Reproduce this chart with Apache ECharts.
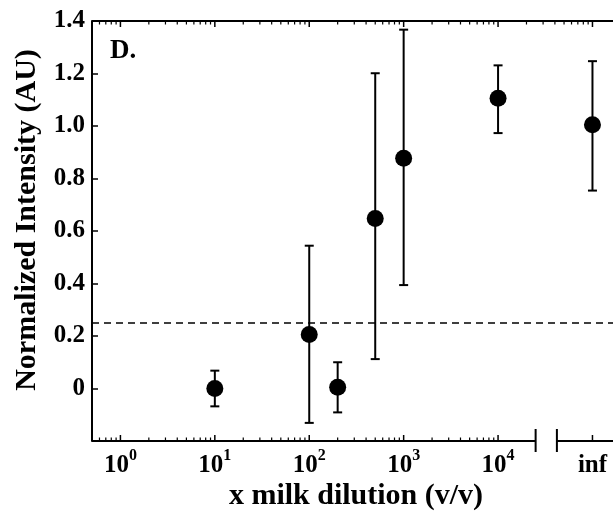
<!DOCTYPE html>
<html><head><meta charset="utf-8">
<script src="https://cdn.jsdelivr.net/npm/echarts@6/dist/echarts.min.js"></script>
<style>html,body{margin:0;padding:0;background:#fff}#c{width:613px;height:512px}</style>
</head><body><div id="c"></div>
<script>
// ---- data ----
const dilution = [10, 100, 200, 500, 1000, 10000, 100000]; // 'inf' is drawn at the 1e5 position
const dilutionLabels = ['10', '100', '200', '500', '1000', '10000', 'inf'];
const intensity = [0.000, 0.206, 0.005, 0.648, 0.877, 1.106, 1.005];
const errLow = [-0.068, -0.131, -0.091, 0.112, 0.394, 0.973, 0.754];
const errHigh = [0.068, 0.544, 0.100, 1.201, 1.367, 1.231, 1.247];
const threshold = 0.25;
// ---- axis ticks ----
const xMajorTicks = [1, 10, 100, 1000, 10000, 100000];
const xTickBase = ['10', '10', '10', '10', '10', 'inf'];
const xTickExp = ['0', '1', '2', '3', '4', ''];
const minorMultipliers = [2, 3, 4, 5, 6, 7, 8, 9];
const minorDecades = [0.1, 1, 10, 100, 1000, 10000];
const bottomMinorLimit = 10000;
const xExtent = [0.5, 165000];
const yExtent = [-0.2, 1.4];
const yStep = 0.2;
const axisBreak = [25000, 42000];

const FONT = '"Liberation Serif", "Times New Roman", serif';
const chart = echarts.init(document.getElementById('c'), null, {renderer: 'canvas'});

function axesRender(params, api) {
  const ch = [];
  const black = '#000';
  const yTop = yExtent[1], yBot = yExtent[0];
  const line = (a, b, w) => ch.push({type: 'line', shape: {x1: a[0], y1: a[1], x2: b[0], y2: b[1]}, style: {stroke: black, lineWidth: w}});
  // top axis (continuous)
  line(api.coord([xExtent[0], yTop]), api.coord([xExtent[1], yTop]), 2);
  // bottom axis with break
  const b0 = api.coord([xExtent[0], yBot]);
  const bs = api.coord([axisBreak[0], yBot]);
  const be = api.coord([axisBreak[1], yBot]);
  const b1 = api.coord([xExtent[1], yBot]);
  line(b0, bs, 2);
  line(be, b1, 2);
  line([bs[0], bs[1] - 12], [bs[0], bs[1] + 11], 2);
  line([be[0], be[1] - 12], [be[0], be[1] + 11], 2);
  // major ticks
  xMajorTicks.forEach((v, i) => {
    const pb = api.coord([v, yBot]);
    const pt = api.coord([v, yTop]);
    line(pb, [pb[0], pb[1] - 6], 1.5);
    line(pt, [pt[0], pt[1] + 6], 1.5);
    const txt = xTickExp[i] ? '{b|' + xTickBase[i] + '}{s|' + xTickExp[i] + '}' : '{b|' + xTickBase[i] + '}';
    ch.push({type: 'text', x: pb[0], y: pb[1] + 25, style: {
      text: txt, align: 'center', verticalAlign: 'middle', fill: black,
      rich: {
        b: {fontSize: 25, fontWeight: 'bold', fontFamily: FONT, lineHeight: 36},
        s: {fontSize: 16, fontWeight: 'bold', fontFamily: FONT, lineHeight: 14, verticalAlign: 'top'}
      }
    }});
  });
  // minor ticks
  minorDecades.forEach(d => minorMultipliers.forEach(m => {
    const v = m * d;
    if (v <= xExtent[0] || v >= xExtent[1]) return;
    const pt = api.coord([v, yTop]);
    line(pt, [pt[0], pt[1] + 3.5], 1.2);
    if (v < bottomMinorLimit) {
      const pb = api.coord([v, yBot]);
      line(pb, [pb[0], pb[1] - 3.5], 1.2);
    }
  }));
  return {type: 'group', children: ch};
}

function errorRender(params, api) {
  const x = api.value(0);
  const lo = api.coord([x, api.value(1)]);
  const hi = api.coord([x, api.value(2)]);
  const cw = 4.5;
  const st = {stroke: '#000', lineWidth: 2};
  return {type: 'group', children: [
    {type: 'line', shape: {x1: hi[0], y1: hi[1], x2: lo[0], y2: lo[1]}, style: st},
    {type: 'line', shape: {x1: hi[0] - cw, y1: hi[1], x2: hi[0] + cw, y2: hi[1]}, style: st},
    {type: 'line', shape: {x1: lo[0] - cw, y1: lo[1], x2: lo[0] + cw, y2: lo[1]}, style: st}
  ]};
}

const option = {
  animation: false,
  backgroundColor: '#fff',
  grid: {left: 92, right: 0, top: 21, bottom: 71},
  xAxis: {
    type: 'log', logBase: 10, min: xExtent[0], max: xExtent[1],
    axisLine: {show: false}, axisTick: {show: false}, axisLabel: {show: false}, splitLine: {show: false}
  },
  yAxis: {
    type: 'value', min: yExtent[0], max: yExtent[1], interval: yStep,
    axisLine: {show: true, onZero: false, lineStyle: {color: '#000', width: 2}},
    axisTick: {show: true, inside: true, length: 6, lineStyle: {color: '#000', width: 1.5}},
    splitLine: {show: false},
    axisLabel: {
      color: '#000', fontSize: 25, fontWeight: 'bold', fontFamily: FONT, margin: 7, padding: [6, 0, 0, 0],
      formatter: v => Math.abs(v - yExtent[0]) < 1e-9 ? '' : (Math.abs(v) < 1e-9 ? '0' : v.toFixed(1))
    }
  },
  graphic: [
    {type: 'text', x: 27, y: 220, rotation: Math.PI / 2, style: {text: 'Normalized Intensity (AU)', align: 'center', verticalAlign: 'middle', fill: '#000', font: 'bold 30px ' + FONT}},
    {type: 'text', x: 356, y: 496, style: {text: 'x milk dilution (v/v)', align: 'center', verticalAlign: 'middle', fill: '#000', font: 'bold 30px ' + FONT}},
    {type: 'text', x: 110, y: 51, style: {text: 'D.', align: 'left', verticalAlign: 'middle', fill: '#000', font: 'bold 27px ' + FONT}}
  ],
  series: [
    {type: 'custom', name: 'axes', silent: true, renderItem: axesRender, data: [[xExtent[0], yExtent[0]]], z: 1},
    {type: 'custom', name: 'error', silent: true, renderItem: errorRender, encode: {x: 0, y: [1, 2]},
      data: dilution.map((x, i) => [x, errLow[i], errHigh[i], dilutionLabels[i]]), z: 2},
    {type: 'scatter', name: 'mean', symbol: 'circle', symbolSize: 17, itemStyle: {color: '#000', opacity: 1}, z: 3,
      data: dilution.map((x, i) => [x, intensity[i]]),
      markLine: {silent: true, symbol: 'none', label: {show: false}, animation: false,
        lineStyle: {type: [7, 5], color: '#000', width: 1.7, opacity: 1}, data: [{yAxis: threshold}]}}
  ]
};
chart.setOption(option);
</script></body></html>
